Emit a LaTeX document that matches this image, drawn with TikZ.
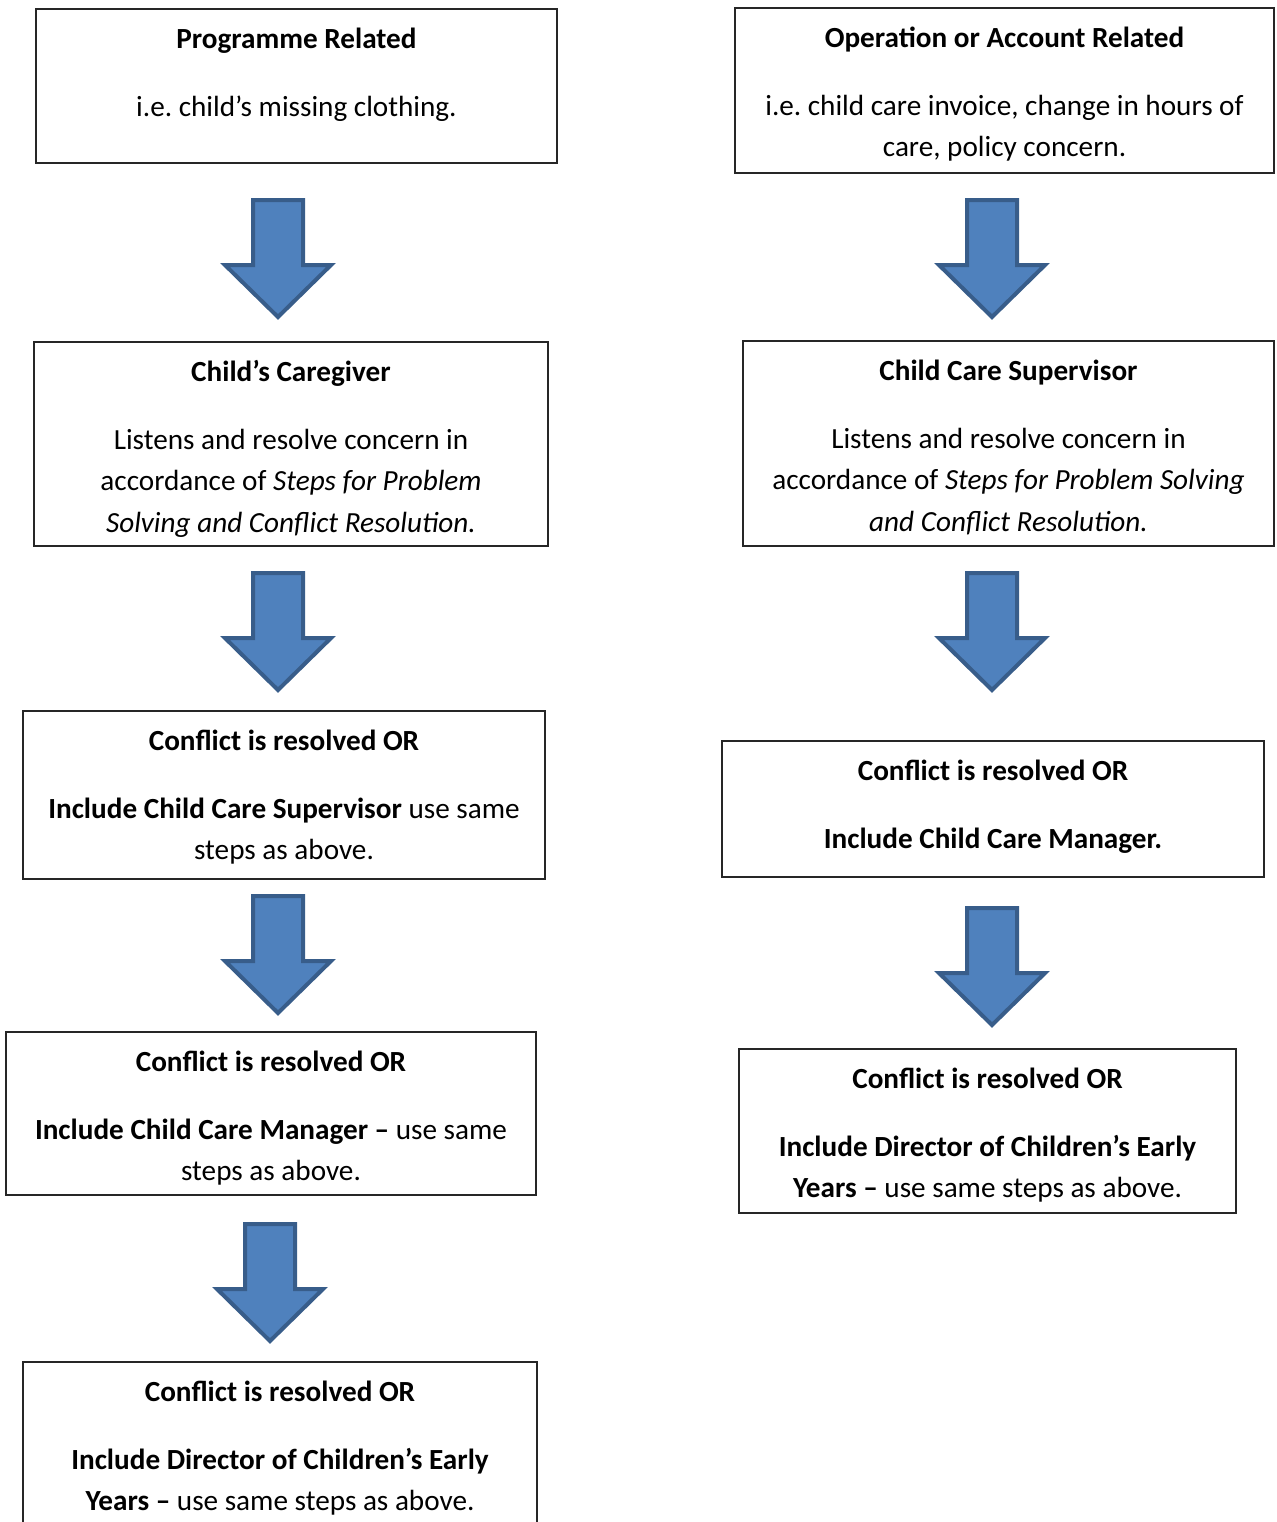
\documentclass[tikz,border=0pt]{standalone}
\usepackage{fontspec}
\setmainfont{Carlito}
\usepackage{tikz}
\usetikzlibrary{calc}
\usetikzlibrary{fit}
\frenchspacing

\definecolor{arrowfill}{RGB}{79,129,189}
\definecolor{arrowline}{RGB}{56,93,138}

\begin{document}
\begin{tikzpicture}[x=0.5pt,y=-0.5pt]

		\tikzset{
			box/.style={draw=black!85, line width=0.75pt, inner sep=0pt},
			boxtext/.style={anchor=north, align=center, inner sep=0pt,
				font=\fontsize{14.6}{20.75}\selectfont},
			blockarrow/.style={fill=arrowfill, draw=arrowline, line width=2pt}
		}

		\def\gap{13.25pt} % space below the headings

		% --- block arrow macro, #1 = top centre ---
		\newcommand{\flowarrow}[1]{
			\begin{scope}[shift={#1}]
				\draw[blockarrow] (-25,2) -- (25,2) -- (25,67) -- (53,67) -- (0,119)
					-- (-53,67) -- (-25,67) -- cycle;
			\end{scope}
		}

		\useasboundingbox (0,0) rectangle (1277,1522);
		\clip (0,0) rectangle (1277,1522);

		% Left column: programme related
		\node[box, fit={(36,9) (557,163)}] (prog) {};
		\node[boxtext] (progtxt) at ($(prog.north)+(0,10.5)$)
			{\strut\textbf{Programme Related}\\[\gap]
			 i.e. child’s missing clothing.};

		\node[box, fit={(34,342) (548,546)}] (giver) {};
		\node[boxtext] (givertxt) at ($(giver.north)+(0,10.5)$)
			{\strut\textbf{Child’s Caregiver}\\[\gap]
			 Listens and resolve concern in\\
			 accordance of \textit{Steps for Problem}\\
			 \textit{Solving and Conflict Resolution.}};

		\node[box, fit={(23,711) (545,879)}] (lsuper) {};
		\node[boxtext] (lsupertxt) at ($(lsuper.north)+(0,10.5)$)
			{\strut\textbf{Conflict is resolved OR}\\[\gap]
			 \textbf{Include Child Care Supervisor} use same\\
			 steps as above.};

		\node[box, fit={(6,1032) (536,1195)}] (lmanager) {};
		\node[boxtext] (lmanagertxt) at ($(lmanager.north)+(0,10.5)$)
			{\strut\textbf{Conflict is resolved OR}\\[\gap]
			 \textbf{Include Child Care Manager –} use same\\
			 steps as above.};

		\node[box, fit={(23,1362) (537,1540)}] (ldirector) {};
		\node[boxtext] (ldirectortxt) at ($(ldirector.north)+(0,10.5)$)
			{\strut\textbf{Conflict is resolved OR}\\[\gap]
			 \textbf{Include Director of Children’s Early}\\
			 \textbf{Years –} use same steps as above.};

		% Right column: operation or account related
		\node[box, fit={(735,8) (1274,173)}] (oper) {};
		\node[boxtext] (opertxt) at ($(oper.north)+(0,10.5)$)
			{\strut\textbf{Operation or Account Related}\\[\gap]
			 i.e. child care invoice, change in hours of\\
			 care, policy concern.};

		\node[box, fit={(743,341) (1274,546)}] (rsuper) {};
		\node[boxtext] (rsupertxt) at ($(rsuper.north)+(0,10.5)$)
			{\strut\textbf{Child Care Supervisor}\\[\gap]
			 Listens and resolve concern in\\
			 accordance of \textit{Steps for Problem Solving}\\
			 \textit{and Conflict Resolution.}};

		\node[box, fit={(722,741) (1264,877)}] (rmanager) {};
		\node[boxtext] (rmanagertxt) at ($(rmanager.north)+(0,10.5)$)
			{\strut\textbf{Conflict is resolved OR}\\[\gap]
			 \textbf{Include Child Care Manager.}};

		\node[box, fit={(739,1049) (1236,1213)}] (rdirector) {};
		\node[boxtext] (rdirectortxt) at ($(rdirector.north)+(0,10.5)$)
			{\strut\textbf{Conflict is resolved OR}\\[\gap]
			 \textbf{Include Director of Children’s Early}\\
			 \textbf{Years –} use same steps as above.};

		% Arrows
		\flowarrow{(278,198)}
		\flowarrow{(278,571)}
		\flowarrow{(278,894)}
		\flowarrow{(270,1222)}
		\flowarrow{(992,198)}
		\flowarrow{(992,571)}
		\flowarrow{(992,906)}

	\end{tikzpicture}
\end{document}
